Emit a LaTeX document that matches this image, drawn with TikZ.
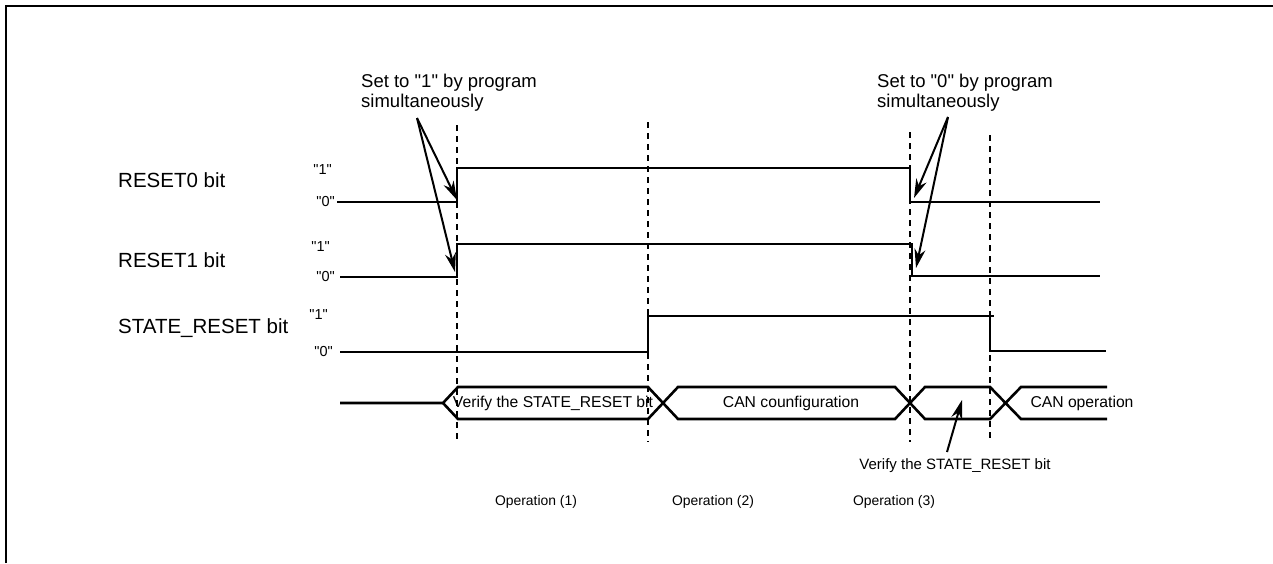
\documentclass[tikz,border=0pt]{standalone}
\usepackage{fontspec}
\setmainfont{Liberation Sans}[Ligatures=TeXOff]
\usetikzlibrary{arrows.meta}
\newcommand{\fs}[1]{\fontsize{#1}{#1}\selectfont}
\tikzset{sig/.style={line width=2.6pt},
  mark line/.style={line width=2.2pt,dash pattern=on 6pt off 5pt},
  note arrow/.style={line width=2pt,-{Stealth[length=19pt,width=11pt,inset=6pt]}},
  level/.style={anchor=east,inner sep=0pt,font=\fs{14.5}},
  signame/.style={anchor=west,inner sep=0pt,font=\fs{20.5}}}

\begin{document}
\begin{tikzpicture}[x=1pt,y=-1pt]
\useasboundingbox (0,0) rectangle (1273,563);
\draw[line width=2.4pt] (6,563)--(6,6)--(1273,6);
% time marks
\foreach \x/\t in {457/125,648/122,910/132,990/135} \draw[mark line] (\x,\t)--(\x,442);
% signal names and levels
\node[signame] (r0) at (118,180) {RESET0 bit}; \node[signame] (r1) at (118,260) {RESET1 bit}; \node[signame] (sr) at (118,328) {STATE\_RESET bit};
\node[level] (r0h) at (332,170) {"1"}; \node[level] (r0l) at (335,202) {"0"};
\node[level] (r1h) at (330,247) {"1"}; \node[level] (r1l) at (335,277) {"0"};
\node[level] (srh) at (328,315) {"1"}; \node[level] (srl) at (333,352) {"0"};
% waveforms
\coordinate (A0) at (457,200); \coordinate (A1) at (455,272); \coordinate (B0) at (914,198); \coordinate (B1) at (916,268);
\draw[sig] (337,202)--(457,202)--(457,168)--(910,168)--(910,202)--(1100,202);
\draw[sig] (340,277)--(457,277)--(457,244)--(912,244)--(912,276)--(1100,276);
\draw[sig] (340,352)--(648,352)--(648,316)--(994,316) (990,316)--(990,351)--(1106,351);
% operation bus
\draw[sig] (340,403)--(443,403)--(458,387)--(648,387)--(678,419)--(895,419)--(925,387)--(990,387)--(1021,419)--(1107,419);
\draw[sig] (443,403)--(458,419)--(648,419)--(678,387)--(895,387)--(925,419)--(990,419)--(1021,387)--(1107,387);
\node[font=\fs{15.7}] (v1) at (553,403) {Verify the STATE\_RESET bit};
\node[font=\fs{15.7}] (cc) at (791,403) {CAN counfiguration};
\node[font=\fs{15.7}] (co) at (1082,403) {CAN operation};
\node[font=\fs{15}] (v2) at (955,466) {Verify the STATE\_RESET bit};
\coordinate (V) at (962,400); \coordinate (v2t) at (947,452);
\draw[note arrow] (v2t)--(V);
% notes
\node[anchor=west,align=left,inner sep=0pt,font=\fontsize{18.5}{20}\selectfont] (set1) at (361,93) {Set to "1" by program\\simultaneously};
\node[anchor=west,align=left,inner sep=0pt,font=\fontsize{18.5}{20}\selectfont] (set0) at (877,93) {Set to "0" by program\\simultaneously};
\coordinate (s1) at (417,118); \coordinate (s0) at (948,117);
\draw[note arrow] (s1)--(A0); \draw[note arrow] (s1)--(A1);
\draw[note arrow] (s0)--(B0); \draw[note arrow] (s0)--(B1);
% operations
\node[font=\fs{13.9}] (op1) at (536,502) {Operation (1)};
\node[font=\fs{13.9}] (op2) at (713,502) {Operation (2)};
\node[font=\fs{13.9}] (op3) at (894,502) {Operation (3)};
\end{tikzpicture}
\end{document}
